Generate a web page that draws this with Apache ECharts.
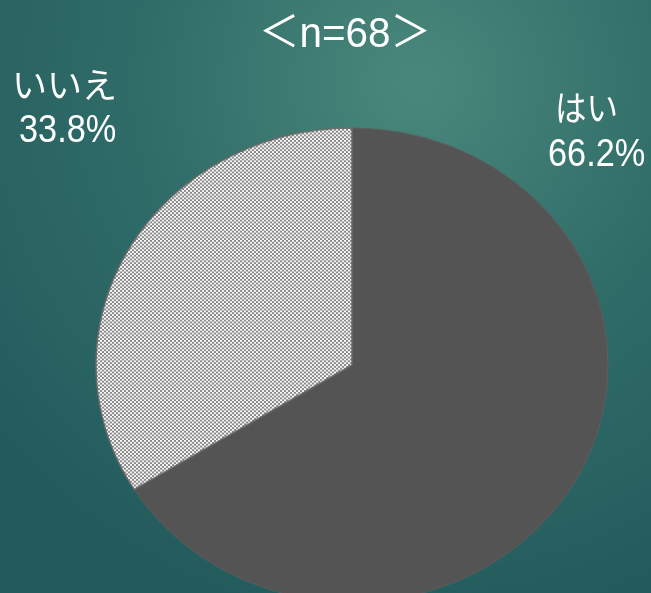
<!DOCTYPE html>
<html><head><meta charset="utf-8">
<script src="https://cdn.jsdelivr.net/npm/echarts@6/dist/echarts.min.js"></script>
<style>
html,body{margin:0;padding:0;width:651px;height:593px;overflow:hidden;}
#bg{position:absolute;left:0;top:0;width:651px;height:593px;}
#pie{position:absolute;left:0;top:0;width:651px;height:660px;transform:scaleY(0.926);transform-origin:352px 365px;}
</style></head>
<body><div id="bg"></div><div id="pie"></div>
<script>
const titleText = '＜n=68＞';
const categories = ['はい', 'いいえ'];
const values = [66.2, 33.8];

// checker pattern
const pc = document.createElement('canvas');
pc.width = 4; pc.height = 4;
const g = pc.getContext('2d');
g.fillStyle = '#f6f6f6'; g.fillRect(0,0,4,4);
g.fillStyle = '#8a8a8a'; g.fillRect(0,0,2,2); g.fillRect(2,2,2,2);

const kanaFont = '"Noto Sans CJK JP", sans-serif';
const numFont = '"Liberation Sans", "Noto Sans CJK JP", sans-serif';

const bg = echarts.init(document.getElementById('bg'), null, {renderer:'canvas'});
// label anchor positions (left x, middle y) for name line and value line
const namePos = [{x: 555, y: 108}, {x: 12, y: 85}];
const valPos = [{x: 548, y: 155}, {x: 19, y: 131}];
const elements = [{
  type: 'text', x: 345, y: 35, scaleX: 0.94,
  style: {text: titleText, fill: '#ffffff', font: '43px ' + numFont, textAlign: 'center', textVerticalAlign: 'middle'}
}];
categories.forEach((c, i) => {
  elements.push({
    type: 'text', x: namePos[i].x, y: namePos[i].y, scaleX: i === 0 ? 0.9 : 1,
    style: {text: c, fill: '#ffffff', font: '35px ' + kanaFont, textAlign: 'left', textVerticalAlign: 'middle'}
  });
  elements.push({
    type: 'text', x: valPos[i].x, y: valPos[i].y, scaleX: 0.88,
    style: {text: values[i].toFixed(1) + '%', fill: '#ffffff', font: '39px ' + numFont, textAlign: 'left', textVerticalAlign: 'middle'}
  });
});
bg.setOption({
  backgroundColor: {
    type: 'radial', x: 0.64, y: 0.14, r: 0.95,
    colorStops: [
      {offset: 0, color: '#4a877b'},
      {offset: 0.5, color: '#2f6c68'},
      {offset: 1, color: '#235a5c'}
    ]
  },
  graphic: {elements: elements}
});

const pie = echarts.init(document.getElementById('pie'), null, {renderer:'canvas'});
pie.setOption({
  animation: false,
  series: [{
    type: 'pie',
    center: [352, 365],
    radius: [0, 256],
    startAngle: 90,
    clockwise: true,
    label: {show: false},
    labelLine: {show: false},
    emphasis: {disabled: true},
    data: [
      {name: categories[0], value: values[0], itemStyle: {color: '#545454', borderColor: '#5e5e5e', borderWidth: 1}},
      {name: categories[1], value: values[1], itemStyle: {color: {image: pc, repeat: 'repeat'}, borderColor: '#6a6a6a', borderWidth: 1.5}}
    ]
  }]
});
</script></body></html>
